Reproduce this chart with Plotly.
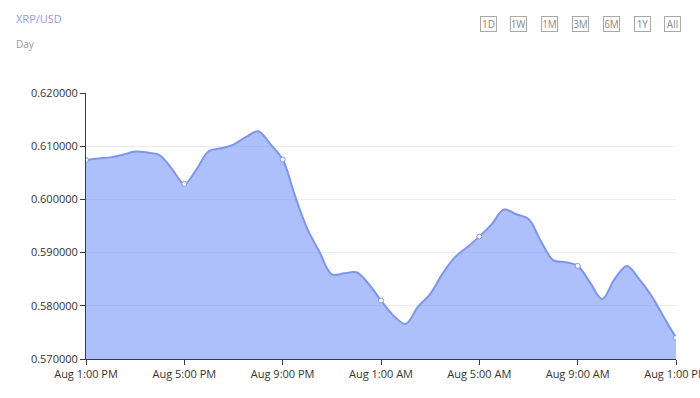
import plotly.graph_objects as go

# half-hour steps from Aug 1:00 PM (0) to next day 1:00 PM (24)
hours = [i / 2 for i in range(49)]
prices = [0.6074, 0.6077, 0.6079, 0.6084, 0.6090, 0.6088, 0.6083, 0.6057, 0.6029,
          0.6057, 0.6091, 0.6096, 0.6103, 0.6117, 0.6128, 0.6104, 0.6075,
          0.6007, 0.5945, 0.5901, 0.5859, 0.5861, 0.5863, 0.5841, 0.5810,
          0.5782, 0.5766, 0.5798, 0.5822, 0.5860, 0.5891, 0.5910, 0.5930,
          0.5953, 0.5981, 0.5972, 0.5963, 0.5922, 0.5886, 0.5882, 0.5875,
          0.5844, 0.5813, 0.5850, 0.5875, 0.5850, 0.5819, 0.5779, 0.5740]
tick_vals = [0, 4, 8, 12, 16, 20, 24]
tick_text = ["Aug 1:00 PM", "Aug 5:00 PM", "Aug 9:00 PM", "Aug 1:00 AM",
             "Aug 5:00 AM", "Aug 9:00 AM", "Aug 1:00 PM"]
buttons = ["1D", "1W", "1M", "3M", "6M", "1Y", "All"]

W, H = 700, 398
L, R, T, B = 86, 676, 93, 359

def px(x):
    return (x - L) / (R - L)

def py(y):
    return (B - y) / (B - T)

line_col = "#7d95ec"
fig = go.Figure()
fig.add_trace(go.Scatter(
    x=hours, y=prices, mode="lines",
    line=dict(color=line_col, width=2, shape="spline", smoothing=1.0),
    fill="tozeroy", fillcolor="rgba(120,150,250,0.6)",
    hoverinfo="skip", showlegend=False))
fig.add_trace(go.Scatter(
    x=hours[::8], y=prices[::8], mode="markers",
    marker=dict(size=5, color="white", line=dict(color=line_col, width=1)),
    showlegend=False))

annotations = [
    dict(text="XRP/USD", x=px(14), y=py(18), xref="paper", yref="paper",
         xanchor="left", yanchor="middle", showarrow=False,
         font=dict(size=11, color="#8c9ee6")),
    dict(text="Day", x=px(14), y=py(44), xref="paper", yref="paper",
         xanchor="left", yanchor="middle", showarrow=False,
         font=dict(size=10, color="#9a9a9a")),
]
for i, b in enumerate(buttons):
    cx = 488 + i * 30.8
    annotations.append(dict(
        text=b, x=px(cx), y=py(23.5), xref="paper", yref="paper",
        xanchor="center", yanchor="middle", showarrow=False,
        width=13, height=12, borderpad=1, borderwidth=1,
        bordercolor="#a8a8a8", font=dict(size=10, color="#8a8a8a")))

fig.update_layout(
    width=W, height=H,
    margin=dict(l=L, r=W - R, t=T, b=H - B),
    paper_bgcolor="white", plot_bgcolor="white",
    font=dict(family="Open Sans, Noto Sans, sans-serif", size=11, color="#444"),
    annotations=annotations,
    xaxis=dict(range=[0, 24], tickvals=tick_vals, ticktext=tick_text,
               showgrid=False, showline=True, linecolor="#333a4d", linewidth=1,
               ticks="outside", ticklen=5, tickcolor="#333a4d",
               ticklabeloverflow="allow", automargin=False,
               tickfont=dict(size=11, color="#333"), zeroline=False, fixedrange=True),
    yaxis=dict(range=[0.57, 0.62], dtick=0.01, tickformat=".6f",
               showgrid=True, gridcolor="#ececec", gridwidth=1,
               showline=True, linecolor="#333a4d", linewidth=1,
               ticks="outside", ticklen=5, tickcolor="#333a4d", automargin=False,
               tickfont=dict(size=11, color="#333"), zeroline=False, fixedrange=True),
)

fig.write_html("out.html", config={"displayModeBar": False},
               post_script="document.body.style.margin='0px';document.body.style.overflow='hidden';")
